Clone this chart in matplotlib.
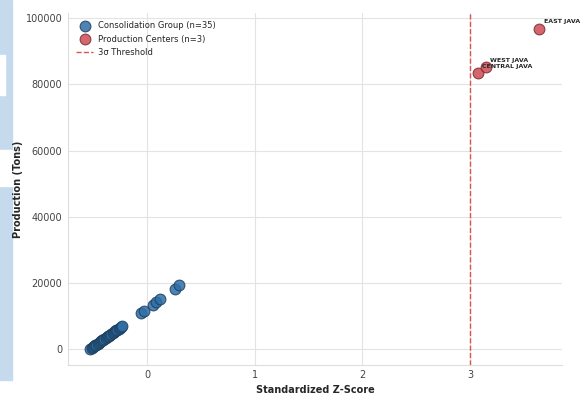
import numpy as np
import matplotlib.pyplot as plt
import seaborn as sns
from matplotlib.patches import Rectangle

sns.set_style("whitegrid")
plt.rcParams['font.family'] = ['DejaVu Sans']

# production per province (tons)
group_prod = [150, 420, 600, 900, 1200, 1450, 1700, 1900, 2200, 2450,
              2700, 2900, 3150, 3400, 3650, 3900, 4100, 4400, 4650, 4900,
              5200, 5450, 5700, 5950, 6200, 6450, 6700, 7000,
              11000, 11600, 13500, 14200, 15100, 18300, 19300]
center_names = ['CENTRAL JAVA', 'WEST JAVA', 'EAST JAVA']
center_prod = [83400, 85200, 96700]
threshold = 3

allp = np.array(group_prod + center_prod, dtype=float)
mu, sd = allp.mean(), allp.std(ddof=1)
z_group = (np.array(group_prod) - mu) / sd
z_center = (np.array(center_prod) - mu) / sd

fig = plt.figure(figsize=(5.81, 3.94), dpi=100)
ax = fig.add_axes([0.117, 0.074, 0.85, 0.893])

# page strip on the left edge
fig.patches.append(Rectangle((0, 1 - 380/394), 12/581, 380/394, transform=fig.transFigure,
                             color='#c6daee', zorder=-2))
fig.patches.append(Rectangle((0, 1 - 95/394), 5/581, 40/394, transform=fig.transFigure,
                             color='white', zorder=-1))
fig.patches.append(Rectangle((0, 1 - 186/394), 12/581, 36/394, transform=fig.transFigure,
                             color='white', zorder=-1))

ax.scatter(z_group, group_prod, s=60, color='#2f6ea6', edgecolor='#1d3f5e', linewidth=0.8,
           alpha=0.85, label='Consolidation Group (n=%d)' % len(group_prod), zorder=3)
ax.scatter(z_center, center_prod, s=60, color='#cf4b55', edgecolor='#7a2a30', linewidth=0.8,
           alpha=0.85, label='Production Centers (n=%d)' % len(center_prod), zorder=3)
ax.axvline(threshold, color='#d9534f', linestyle='--', linewidth=1, label='3σ Threshold', zorder=2)

for name, zx, p in zip(center_names, z_center, center_prod):
    ax.annotate(name, (zx, p), xytext=(3, 4), textcoords='offset points',
                fontsize=4.5, fontweight='bold')

ax.set_xlabel('Standardized Z-Score', fontsize=7, fontweight='bold', labelpad=3)
ax.set_ylabel('Production (Tons)', fontsize=7, fontweight='bold', labelpad=2)
ax.tick_params(labelsize=7, colors='#444444', length=0, pad=4)
ax.set_xticks([0, 1, 2, 3])
ax.grid(True, color='#e3e3e3', linewidth=0.8)
for s in ['top', 'right']:
    ax.spines[s].set_visible(False)
for s in ['left', 'bottom']:
    ax.spines[s].set_color('#dddddd')

ax.legend(loc='upper left', fontsize=6, frameon=False, borderaxespad=0.6, handletextpad=0.6)

fig.savefig('out.png', dpi=100)
